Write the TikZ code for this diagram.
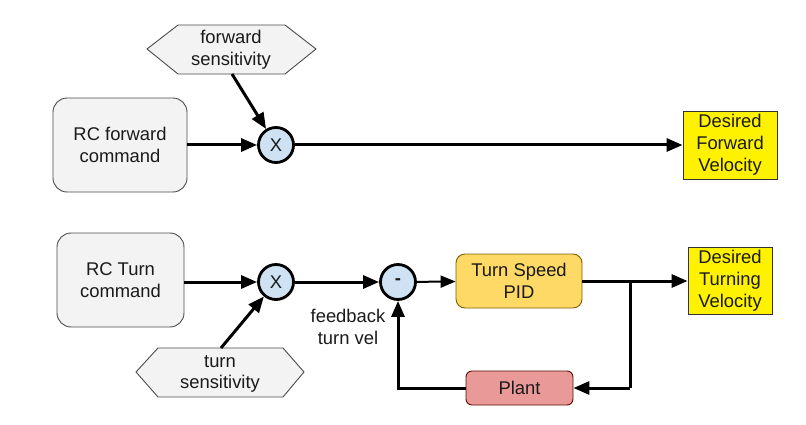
\documentclass[tikz,border=0pt]{standalone}
\usepackage{fontspec}
\setmainfont{Liberation Sans}
\usetikzlibrary{arrows.meta}
\definecolor{boxgray}{HTML}{F3F3F3}
\definecolor{opblue}{HTML}{CFE2F3}
\definecolor{pidfill}{HTML}{FFD966}
\definecolor{pidline}{HTML}{7F6000}
\definecolor{plantfill}{HTML}{EA9999}
\definecolor{plantline}{HTML}{5B0F00}
\definecolor{txtcol}{HTML}{1A1A1A}
\begin{document}
\begin{tikzpicture}[x=1pt,y=-1pt,
  txt/.style={font=\fontsize{18.4}{21.8}\selectfont, align=center, text=txtcol},
  rcbox/.style={txt, draw=black!70, line width=0.9pt, fill=boxgray, rounded corners=14pt, inner sep=0pt},
  hexa/.style={draw=black!70, line width=0.9pt, fill=boxgray},
  op/.style={txt, circle, draw=black, line width=2.8pt, fill=opblue, minimum size=35pt, inner sep=0pt},
  outbox/.style={txt, draw=black!80, line width=0.9pt, fill=yellow, inner sep=0pt},
  pidbox/.style={txt, draw=pidline, line width=0.9pt, fill=pidfill, rounded corners=9pt, inner sep=0pt},
  plantbox/.style={txt, draw=plantline, line width=0.9pt, fill=plantfill, rounded corners=6pt, inner sep=0pt},
  conn/.style={line width=3pt, -{Triangle[length=16pt,width=13pt]}},
  thinconn/.style={line width=2pt, -{Triangle[length=15pt,width=12pt]}},
  wire/.style={line width=3pt},
]
\fill[white] (0,0) rectangle (806,425);
\useasboundingbox (0,0) rectangle (806,425);

% hexagons
\draw[hexa] (147,49) -- (178,25) -- (285,25) -- (316,49) -- (285,74) -- (178,74) -- cycle;
\node[txt] (fsens) at (231,50) {forward\\sensitivity};
\coordinate (fsb) at (232,74);
\draw[hexa] (136,372) -- (158,348) -- (283,348) -- (304,372) -- (283,397) -- (158,397) -- cycle;
\node[txt] (tsens) at (220,374) {turn\\sensitivity};
\coordinate (tst) at (221,348);

% boxes
\node[rcbox, minimum width=134pt, minimum height=94pt] (rcf) at (120,145) {RC forward\\command};
\node[rcbox, minimum width=127pt, minimum height=94pt] (rct) at (120.5,280) {RC Turn\\command};
\node[op] (x1) at (276,145) {X};
\node[op] (x2) at (276,282) {X};
\node[op, font=\fontsize{18.4}{21.8}\selectfont\bfseries] (sub) at (398,282) {-};
\node[outbox, minimum width=94pt, minimum height=68pt] (dfv) at (730,145) {Desired\\Forward\\Velocity};
\node[outbox, minimum width=84pt, minimum height=67pt] (dtv) at (730,281) {Desired\\Turning\\Velocity};
\node[pidbox, minimum width=126pt, minimum height=54pt] (pid) at (519,281) {Turn Speed\\PID};
\node[plantbox, minimum width=107pt, minimum height=34pt] (plant) at (519.5,388) {Plant};
\node[txt] (fbl) at (348,327) {feedback\\turn vel};

\coordinate (j1) at (630,281);
\coordinate (j2) at (630,388);
\coordinate (fb) at (398,388);

% connectors
\draw[conn] (rcf) -- (x1);
\draw[conn] (fsb) -- (x1);
\draw[conn] (x1) -- (dfv);
\draw[conn] (rct.east |- x2.west) -- (x2.west);
\draw[conn] (tst) -- (x2);
\draw[conn] (x2) -- (sub);
\draw[thinconn] (sub) -- (pid);
\draw[conn] (pid.east) -- (dtv.west);
\draw[wire] (j1) -- (j2);
\draw[conn] (j2) -- (plant.east);
\draw[conn] (plant.west) -- (fb) -- (sub.south);
\end{tikzpicture}
\end{document}
